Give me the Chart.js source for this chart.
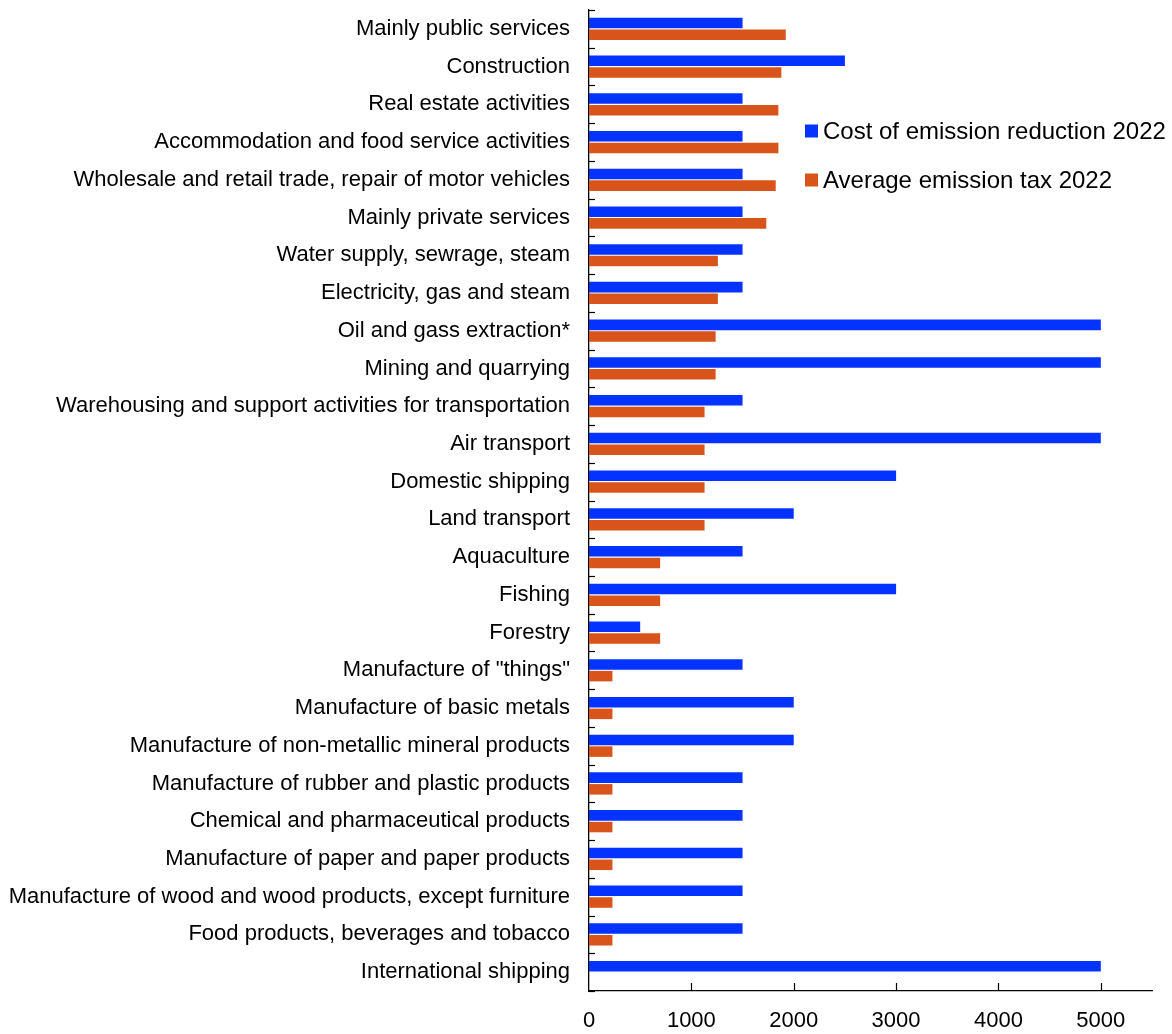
<!DOCTYPE html>
<html>
<head>
<meta charset="utf-8">
<style>
  html, body { margin: 0; padding: 0; background: #ffffff; }
  #wrap { width: 1172px; height: 1034px; position: relative; }
</style>
<script src="https://cdn.jsdelivr.net/npm/chart.js@4/dist/chart.umd.min.js"></script>
</head>
<body>
<div id="wrap"><canvas id="c" width="1172" height="1034"></canvas></div>
<script>
const sectors = [
  'Mainly public services',
  'Construction',
  'Real estate activities',
  'Accommodation and food service activities',
  'Wholesale and retail trade, repair of motor vehicles',
  'Mainly private services',
  'Water supply, sewrage, steam',
  'Electricity, gas and steam',
  'Oil and gass extraction*',
  'Mining and quarrying',
  'Warehousing and support activities for transportation',
  'Air transport',
  'Domestic shipping',
  'Land transport',
  'Aquaculture',
  'Fishing',
  'Forestry',
  'Manufacture of "things"',
  'Manufacture of basic metals',
  'Manufacture of non-metallic mineral products',
  'Manufacture of rubber and plastic products',
  'Chemical and pharmaceutical products',
  'Manufacture of paper and paper products',
  'Manufacture of wood and wood products, except furniture',
  'Food products, beverages and tobacco',
  'International shipping'
];

const reductionCost2022 = [
  1500, 2500, 1500, 1500, 1500, 1500, 1500, 1500, 5000, 5000,
  1500, 5000, 3000, 2000, 1500, 3000, 500, 1500, 2000, 2000,
  1500, 1500, 1500, 1500, 1500, 5000
];

const emissionTax2022 = [
  1922, 1879, 1850, 1850, 1824, 1732, 1259, 1259, 1237, 1237,
  1129, 1129, 1129, 1129, 695, 695, 695, 229, 229, 229,
  229, 229, 229, 229, 229, null
];

const xTickValues = [0, 1000, 2000, 3000, 4000, 5000];

const seriesNames = ['Cost of emission reduction 2022', 'Average emission tax 2022'];
const seriesColors = ['#0433ff', '#d9541a'];

const FONT = '"Liberation Sans", Arial, Helvetica, sans-serif';

// Short tick marks drawn on the inside of both axes
const innerTicks = {
  id: 'innerTicks',
  afterDraw(chart) {
    const { ctx, chartArea } = chart;
    const xs = chart.scales.x, ys = chart.scales.y;
    ctx.save();
    ctx.strokeStyle = '#000';
    ctx.lineWidth = 1.2;
    const step = ys.getPixelForValue(1) - ys.getPixelForValue(0);
    for (let i = 0; i <= sectors.length; i++) {
      const y = Math.round(ys.getPixelForValue(i) - step / 2) + 0.5;
      ctx.beginPath();
      ctx.moveTo(chartArea.left, y);
      ctx.lineTo(chartArea.left + 6, y);
      ctx.stroke();
    }
    xTickValues.slice(1).forEach(v => {
      const x = Math.round(xs.getPixelForValue(v)) + 0.5;
      ctx.beginPath();
      ctx.moveTo(x, chartArea.bottom);
      ctx.lineTo(x, chartArea.bottom - 8);
      ctx.stroke();
    });
    ctx.restore();
  }
};

// Legend placed inside the plot area, upper right
const insetLegend = {
  id: 'insetLegend',
  afterDraw(chart, args, opts) {
    const { ctx } = chart;
    ctx.save();
    ctx.font = opts.font;
    ctx.textBaseline = 'middle';
    chart.data.datasets.forEach((ds, i) => {
      const y = opts.y + i * opts.rowGap;
      ctx.fillStyle = ds.backgroundColor;
      ctx.fillRect(opts.x, y - opts.box / 2, opts.box, opts.box);
      ctx.fillStyle = '#000';
      ctx.fillText(ds.label, opts.x + opts.box + 5, y + 1);
    });
    ctx.restore();
  }
};

new Chart(document.getElementById('c'), {
  type: 'bar',
  data: {
    labels: sectors,
    datasets: [
      { label: seriesNames[0], data: reductionCost2022, backgroundColor: seriesColors[0] },
      { label: seriesNames[1], data: emissionTax2022, backgroundColor: seriesColors[1] }
    ]
  },
  options: {
    indexAxis: 'y',
    responsive: false,
    animation: false,
    devicePixelRatio: 1,
    categoryPercentage: 0.62,
    barPercentage: 0.9,
    layout: { padding: { top: 10, right: 20, left: 0, bottom: 0 } },
    plugins: {
      legend: { display: false },
      tooltip: { enabled: false },
      insetLegend: { x: 805, y: 131, rowGap: 49, box: 13, font: '24px ' + FONT }
    },
    scales: {
      x: {
        min: 0,
        max: 5500,
        afterBuildTicks(scale) {
          scale.ticks = xTickValues.map(v => ({ value: v }));
        },
        afterFit(scale) {
          scale.height = 43;
          scale.paddingLeft = 0;
          scale.paddingRight = 0;
        },
        grid: { display: false, drawTicks: false },
        border: { display: true, color: '#000', width: 1.3 },
        ticks: {
          color: '#000',
          padding: 17,
          maxRotation: 0,
          autoSkip: false,
          font: { family: FONT, size: 22 },
          callback: v => String(v)
        }
      },
      y: {
        afterFit(scale) {
          scale.width = 589;
          scale.paddingTop = 0;
          scale.paddingBottom = 0;
        },
        grid: { display: false, drawTicks: false },
        border: { display: true, color: '#000', width: 1.3 },
        ticks: {
          color: '#000',
          padding: 19,
          autoSkip: false,
          font: { family: FONT, size: 22 }
        }
      }
    }
  },
  plugins: [innerTicks, insetLegend]
});
</script>
</body>
</html>
